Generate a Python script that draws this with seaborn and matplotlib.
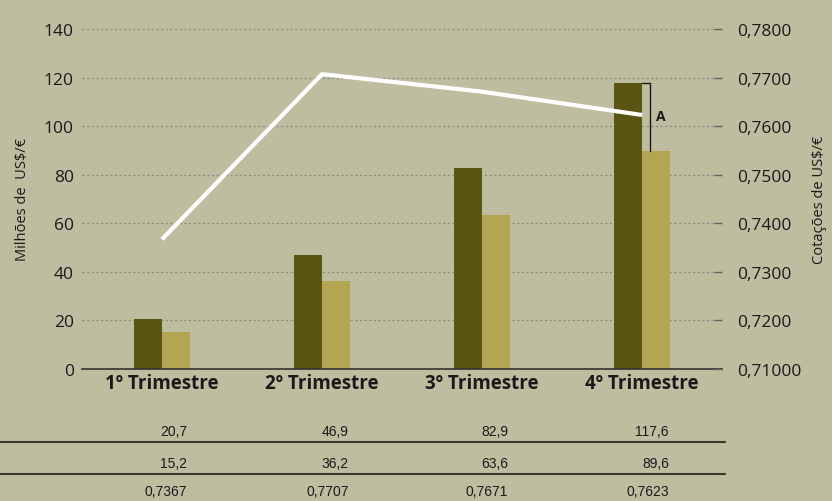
import numpy as np
import pandas as pd
import matplotlib
matplotlib.use("Agg")
import matplotlib.pyplot as plt
from matplotlib.lines import Line2D
import seaborn as sns

categories = ["1º Trimestre", "2º Trimestre", "3º Trimestre", "4º Trimestre"]
series_names = ["Série A", "Série B"]
values_a = [20.7, 46.9, 82.9, 117.6]
values_b = [15.2, 36.2, 63.6, 89.6]
rates = [0.7367, 0.7707, 0.7671, 0.7623]
left_ticks = [0, 20, 40, 60, 80, 100, 120, 140]
right_ticks = [0.71, 0.72, 0.73, 0.74, 0.75, 0.76, 0.77, 0.78]
right_tick_labels = ["0,71000", "0,7200", "0,7300", "0,7400", "0,7500", "0,7600", "0,7700", "0,7800"]
table_a = ["20,7", "46,9", "82,9", "117,6"]
table_b = ["15,2", "36,2", "63,6", "89,6"]
table_r = ["0,7367", "0,7707", "0,7671", "0,7623"]

BG = "#BEBDA0"
DARK = "#5A5512"
LIGHT = "#B2A652"
TXT = "#1a1a1a"

sns.set_theme(style="white")
plt.rcParams["font.family"] = ["Open Sans", "DejaVu Sans"]

df = pd.DataFrame({
    "Trimestre": categories * 2,
    "Valor": values_a + values_b,
    "Série": [series_names[0]] * 4 + [series_names[1]] * 4,
})

fig = plt.figure(figsize=(8.32, 5.02), dpi=100, facecolor=BG)
ax = fig.add_axes([82 / 832, 1 - 370 / 502, 640 / 832, 340 / 502])
ax.set_facecolor(BG)

sns.barplot(data=df, x="Trimestre", y="Valor", hue="Série", order=categories,
            hue_order=series_names, palette=[DARK, LIGHT], width=0.35,
            saturation=1, ax=ax, legend=False, edgecolor="none", linewidth=0)

ax.set_xlim(-0.5, 3.5)
ax.set_ylim(0, 140)
ax.set_yticks(left_ticks)
ax.set_yticklabels([str(t) for t in left_ticks], fontsize=12.5, color=TXT)
ax.tick_params(axis="y", length=0, pad=6)
ax.tick_params(axis="x", length=0, pad=3)
ax.set_xticks(range(len(categories)))
ax.set_xticklabels(categories, fontsize=13.5, fontweight="bold", color=TXT)
ax.set_xlabel("")
ax.set_ylabel("Milhões de  US$/€", fontsize=10.5, color=TXT)
ax.yaxis.set_label_coords(-0.081, 0.5)
for y in left_ticks[1:]:
    ax.axhline(y, color="#8c8c82", lw=0.9, ls=(0, (1.7, 2.0)), zorder=0)
for s in ["top", "right", "left"]:
    ax.spines[s].set_visible(False)
ax.spines["bottom"].set_color("#333333")
ax.spines["bottom"].set_linewidth(1.2)

# bracket annotation "A"
bx = 3.05
ax.plot([bx, bx], [values_b[3], values_a[3]], color=TXT, lw=1, zorder=5)
ax.plot([3.0, bx], [values_a[3], values_a[3]], color=TXT, lw=1, zorder=5)
ax.text(3.085, 104, "A", fontsize=10, fontweight="bold", color=TXT,
        ha="left", va="center")

ax2 = ax.twinx()
sns.lineplot(x=np.arange(len(rates)), y=rates, ax=ax2, color="white", lw=3,
             solid_capstyle="butt")
ax2.set_ylim(0.71, 0.78)
ax2.set_yticks(right_ticks)
ax2.set_yticklabels(right_tick_labels, fontsize=12.5, color=TXT)
ax2.tick_params(axis="y", direction="in", length=6, width=1, color="#666660", pad=11, right=True)
ax2.set_ylabel("Cotações de US$/€", fontsize=10.5, color=TXT)
ax2.yaxis.set_label_coords(1.14, 0.5)
for s in ["top", "left", "bottom", "right"]:
    ax2.spines[s].set_visible(False)
ax2.set_xlim(-0.5, 3.5)

# table below
try:
    from matplotlib import font_manager
    font_manager.findfont("Liberation Sans Narrow", fallback_to_default=False)
    tfam = ["Liberation Sans Narrow", "DejaVu Sans"]
except Exception:
    tfam = ["Liberation Sans", "DejaVu Sans"]
xs = [187, 349, 508, 669]
rows = [(table_a, 432), (table_b, 464), (table_r, 492)]
for vals, ypx in rows:
    for v, xp in zip(vals, xs):
        fig.text(xp / 832, 1 - ypx / 502, v, ha="right", va="center",
                 fontsize=10, family=tfam, color=TXT)
for ypx in [443, 475]:
    fig.add_artist(Line2D([0, 725 / 832], [1 - ypx / 502] * 2, color="#3a3a30", lw=1.5))

fig.savefig("out.png", dpi=100, facecolor=BG)
